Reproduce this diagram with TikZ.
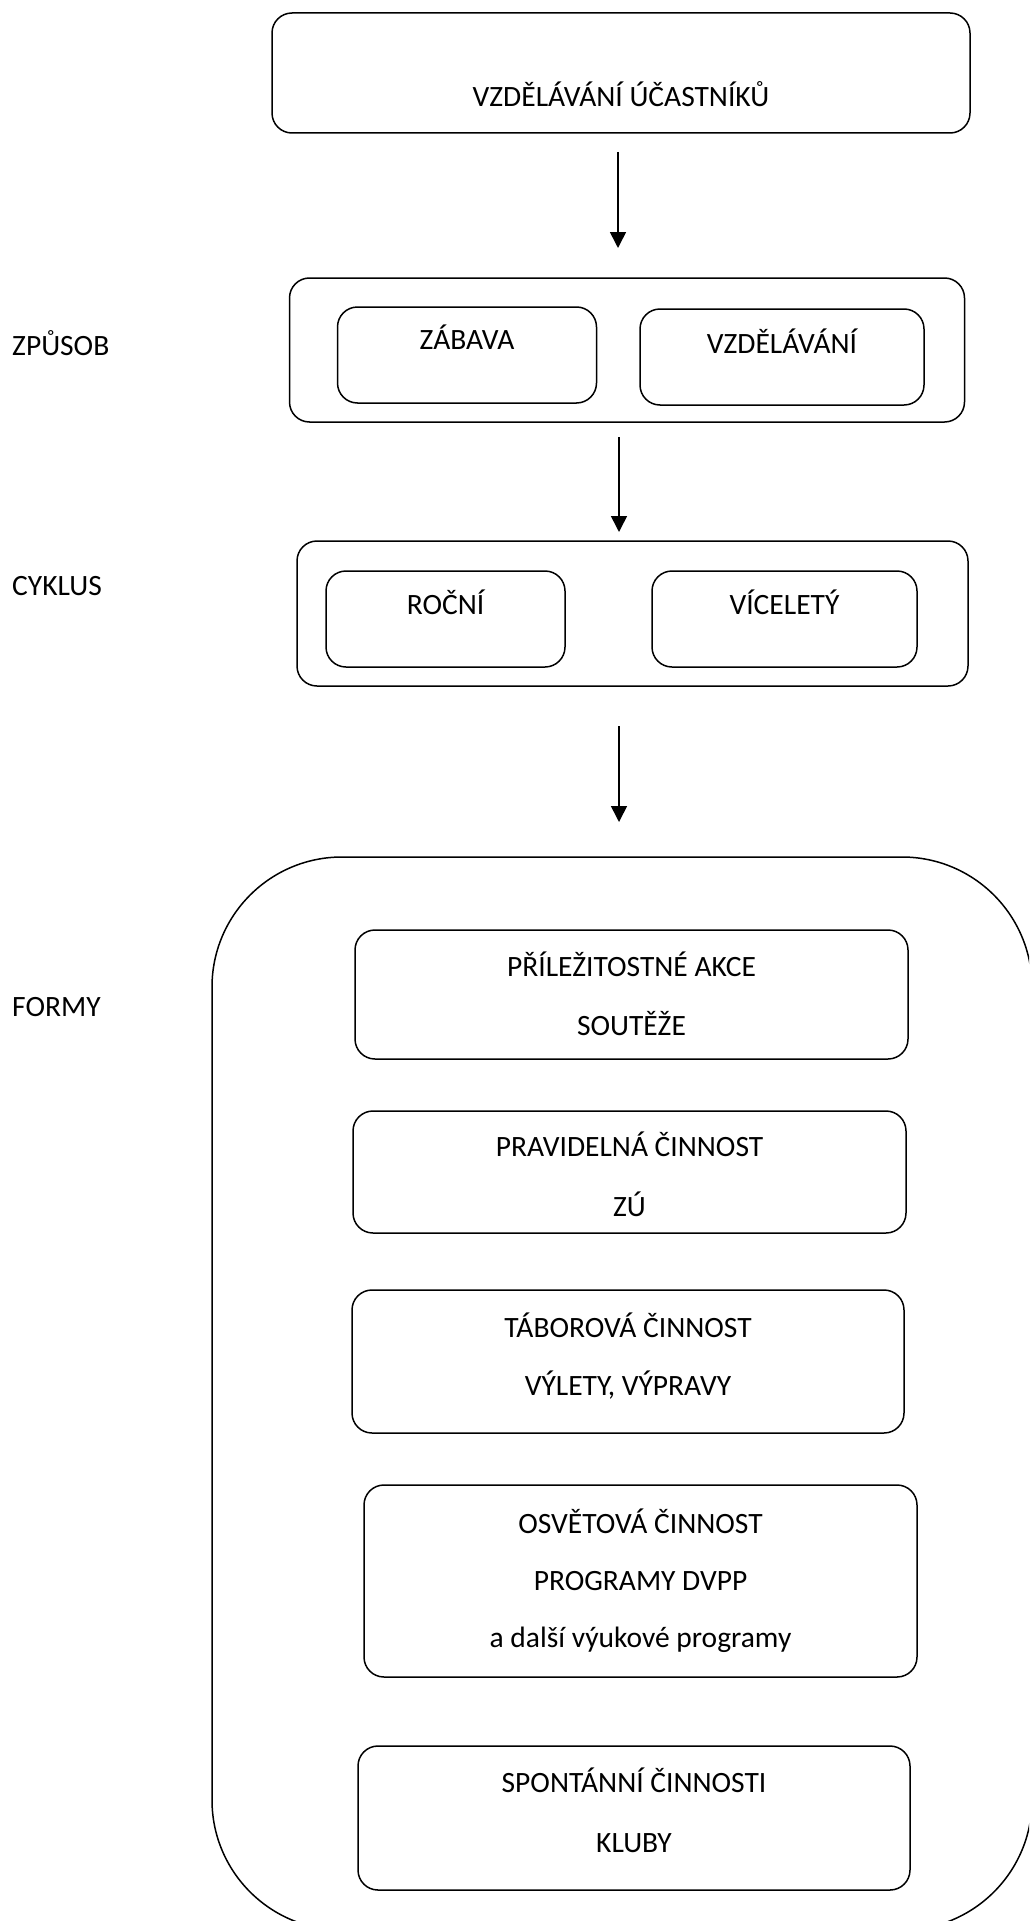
\documentclass[tikz,border=0pt]{standalone}
\usepackage{fontspec}
\setmainfont{Carlito}
\usetikzlibrary{arrows.meta}
\tikzset{
  box/.style={draw, line width=1.5pt, rounded corners=20pt, inner sep=0pt},
  bigbox/.style={draw, line width=1.5pt, rounded corners=130pt, inner sep=0pt},
  txt/.style={inner sep=0pt, anchor=base, font=\fontsize{29.5}{34}\selectfont},
  lbl/.style={inner sep=0pt, anchor=base west, font=\fontsize{29.5}{34}\selectfont},
  arr/.style={line width=1.6pt, -{Triangle[length=16pt,width=16pt]}}
}
\begin{document}
\begin{tikzpicture}[x=1pt,y=-1pt]
\useasboundingbox (0,0) rectangle (1029,1921);
\clip (0,0) rectangle (1029,1921);
% top
\node[box, minimum width=698pt, minimum height=120pt] (top) at (621,73) {};
\node[txt] (ttop) at (621,107) {VZDĚLÁVÁNÍ ÚČASTNÍKŮ};
% zpusob
\node[box, minimum width=675pt, minimum height=144pt] (way) at (627,350) {};
\node[box, minimum width=259pt, minimum height=96pt] (zab) at (467,355) {};
\node[box, minimum width=284pt, minimum height=96pt] (vzd) at (782,357) {};
\node[txt] (tzab) at (467,349) {ZÁBAVA};
\node[txt] (tvzd) at (782,353) {VZDĚLÁVÁNÍ};
\node[lbl] (lway) at (12,355) {ZPŮSOB};
% cyklus
\node[box, minimum width=671pt, minimum height=145pt] (cyc) at (632.5,613.5) {};
\node[box, minimum width=239pt, minimum height=96pt] (roc) at (445.5,619) {};
\node[box, minimum width=265pt, minimum height=96pt] (vic) at (784.5,619) {};
\node[txt] (troc) at (445.5,614) {ROČNÍ};
\node[txt] (tvic) at (784.5,614) {VÍCELETÝ};
\node[lbl] (lcyc) at (12,595) {CYKLUS};
% formy
\node[bigbox, minimum width=820pt, minimum height=1073pt] (forms) at (622,1393.5) {};
\node[lbl] (lforms) at (12,1016) {FORMY};
\node[box, minimum width=553pt, minimum height=129pt] (f1) at (631.5,994.5) {};
\node[txt] (f1a) at (631.5,976) {PŘÍLEŽITOSTNÉ AKCE};
\node[txt] (f1b) at (631.5,1035) {SOUTĚŽE};
\node[box, minimum width=553pt, minimum height=122pt] (f2) at (629.5,1172) {};
\node[txt] (f2a) at (629.5,1156) {PRAVIDELNÁ ČINNOST};
\node[txt] (f2b) at (629.5,1216) {ZÚ};
\node[box, minimum width=552pt, minimum height=143pt] (f3) at (628,1361.5) {};
\node[txt] (f3a) at (628,1337) {TÁBOROVÁ ČINNOST};
\node[txt] (f3b) at (628,1395) {VÝLETY, VÝPRAVY};
\node[box, minimum width=553pt, minimum height=192pt] (f4) at (640.5,1581) {};
\node[txt] (f4a) at (640.5,1533) {OSVĚTOVÁ ČINNOST};
\node[txt] (f4b) at (640.5,1590) {PROGRAMY DVPP};
\node[txt] (f4c) at (640.5,1647) {a další výukové programy};
\node[box, minimum width=552pt, minimum height=144pt] (f5) at (634,1818) {};
\node[txt] (f5a) at (634,1792) {SPONTÁNNÍ ČINNOSTI};
\node[txt] (f5b) at (634,1852) {KLUBY};
% arrows
\coordinate (a1s) at (618,152);
\coordinate (a1e) at (618,248);
\coordinate (a2s) at (619,437);
\coordinate (a2e) at (619,532);
\coordinate (a3s) at (619,726);
\coordinate (a3e) at (619,822);
\draw[arr] (a1s) -- (a1e);
\draw[arr] (a2s) -- (a2e);
\draw[arr] (a3s) -- (a3e);
\end{tikzpicture}
\end{document}
